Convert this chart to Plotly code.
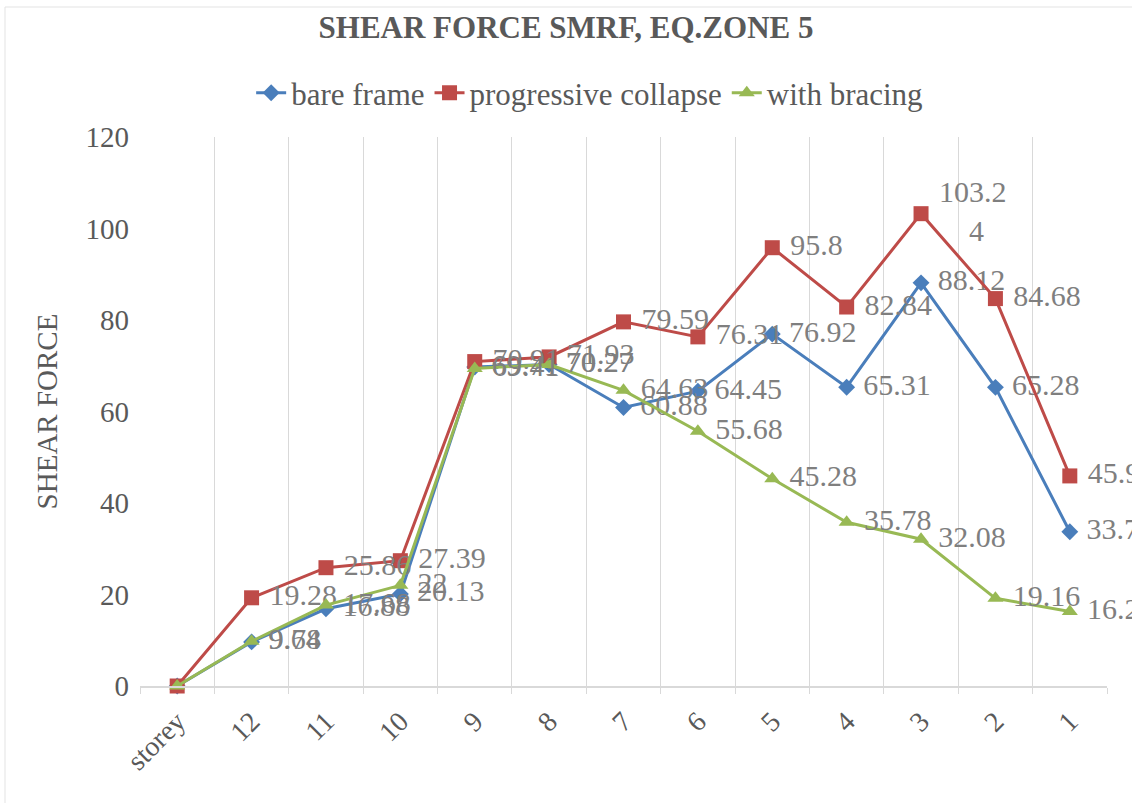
import plotly.graph_objects as go

categories = ["storey", "12", "11", "10", "9", "8", "7", "6", "5", "4", "3", "2", "1"]
bare_frame = [0, 9.64, 16.88, 20.13, 69.71, 70.27, 60.88, 64.45, 76.92, 65.31, 88.12, 65.28, 33.72]
progressive_collapse = [0, 19.28, 25.86, 27.39, 70.91, 71.93, 79.59, 76.31, 95.8, 82.84, 103.24, 84.68, 45.92]
with_bracing = [0, 9.78, 17.68, 22, 69.41, 70.27, 64.63, 55.68, 45.28, 35.78, 32.08, 19.16, 16.28]

FONT = "Liberation Serif, Times New Roman, serif"
LABEL_COLOR = "#7f7f7f"
NB = "\u00a0"


def labels(vals):
    out = []
    for i, v in enumerate(vals):
        if i == 0:
            out.append("")
        elif v == 103.24:
            out.append(NB + "103.2<br>" + NB * 5 + "4")
        else:
            out.append(NB + f"{v:g}")
    return out


series = [
    ("bare frame", bare_frame, "#4a7ebb", "diamond", 13),
    ("progressive collapse", progressive_collapse, "#be4b48", "square", 15),
    ("with bracing", with_bracing, "#98b954", "triangle-up", 14),
]

fig = go.Figure()
for name, vals, color, sym, size in series:
    fig.add_trace(go.Scatter(
        x=categories, y=vals, name=name, mode="lines+markers+text",
        line=dict(color=color, width=3),
        marker=dict(symbol=sym, size=size, color=color),
        text=labels(vals), textposition="middle right",
        textfont=dict(family=FONT, size=30, color=LABEL_COLOR),
        cliponaxis=False,
    ))

fig.update_layout(
    width=1132, height=803, autosize=False,
    paper_bgcolor="white", plot_bgcolor="white",
    margin=dict(l=140, r=25, t=137, b=117),
    font=dict(family=FONT, color="#595959"),
    title=dict(text="<b>SHEAR FORCE SMRF, EQ.ZONE 5</b>", x=0.5, xanchor="center",
               y=0.966, yanchor="middle", font=dict(family=FONT, size=31, color="#595959")),
    legend=dict(orientation="h", x=0.465, xanchor="center", y=1.08, yanchor="middle",
                font=dict(family=FONT, size=31, color="#595959"), itemwidth=30,
                traceorder="normal"),
    showlegend=True,
    shapes=[dict(type="rect", xref="paper", yref="paper",
                 x0=(5 - 140) / 967, x1=1.2, y0=(686 - 810) / 549, y1=(686 - 7) / 549,
                 line=dict(color="#e3e3e3", width=1), fillcolor="rgba(0,0,0,0)", layer="below")],
)
fig.update_xaxes(
    type="category", tickson="boundaries", showgrid=True, gridcolor="#d9d9d9", gridwidth=1,
    showline=True, linecolor="#d9d9d9", linewidth=1.5, ticks="outside", ticklen=6,
    tickcolor="#d9d9d9", tickangle=-45, tickfont=dict(family=FONT, size=28, color="#595959"),
    range=[-0.5, 12.5], ticklabelstandoff=6,
)
fig.update_yaxes(
    range=[0, 120], dtick=20, showgrid=False, showline=False, zeroline=False,
    tickfont=dict(family=FONT, size=29, color="#595959"), ticks="", ticklabelstandoff=10,
    title=dict(text="SHEAR FORCE", font=dict(family=FONT, size=29, color="#595959"), standoff=19),
)

fig.write_html("out.html", config={"displayModeBar": False},
               post_script="document.body.style.margin='0';")
